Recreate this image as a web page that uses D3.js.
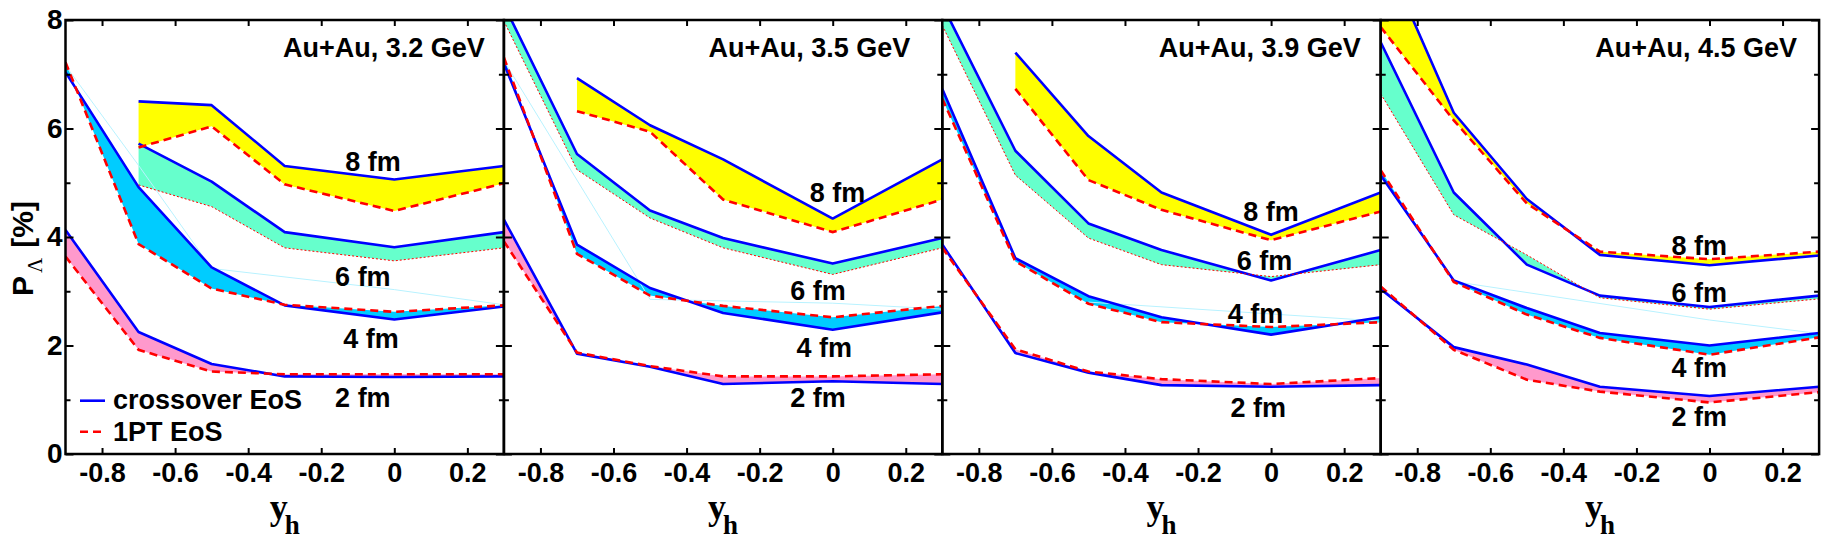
<!DOCTYPE html>
<html>
<head>
<meta charset="utf-8">
<script src="https://cdn.jsdelivr.net/npm/d3@7"></script>
<style>
  body { margin: 0; background: #fff; }
  svg text { font-family: "Liberation Sans", Arial, sans-serif; font-weight: bold; fill: #000; }
  .tick text { font-size: 27px; }
</style>
</head>
<body>
<svg id="chart" width="1831" height="550"></svg>
<script>
// rapidity points where the model was evaluated
const yh = [-0.9, -0.7, -0.5, -0.3, 0, 0.3];
const energies = ["3.2", "3.5", "3.9", "4.5"];
const bLabels = ["2 fm", "4 fm", "6 fm", "8 fm"];
const xTicks = [-0.8, -0.6, -0.4, -0.2, 0, 0.2];
const yMajor = [0, 2, 4, 6, 8];
const yMinor = [1, 3, 5, 7];

// P_Lambda [%], rows = b = 2,4,6,8 fm, null = not computed
const xover32 = [
  [4.13, 2.25, 1.66, 1.43, 1.42, 1.43],
  [7.04, 4.92, 3.44, 2.74, 2.48, 2.72],
  [null, 5.72, 5.02, 4.09, 3.81, 4.09],
  [null, 6.50, 6.43, 5.31, 5.06, 5.31]
];
const onept32 = [
  [3.64, 1.92, 1.52, 1.47, 1.47, 1.47],
  [7.22, 3.87, 3.05, 2.75, 2.62, 2.74],
  [null, 4.96, 4.56, 3.80, 3.56, 3.80],
  [null, 5.65, 6.04, 4.97, 4.48, 4.99]
];
const xover35 = [
  [4.32, 1.85, 1.61, 1.29, 1.34, 1.29],
  [7.20, 3.86, 3.06, 2.60, 2.29, 2.61],
  [8.28, 5.53, 4.49, 3.98, 3.51, 3.98],
  [null, 6.93, 6.06, 5.43, 4.34, 5.43]
];
const onept35 = [
  [3.92, 1.87, 1.62, 1.43, 1.43, 1.47],
  [7.31, 3.69, 2.92, 2.73, 2.52, 2.73],
  [7.98, 5.24, 4.35, 3.80, 3.31, 3.80],
  [null, 6.32, 5.94, 4.69, 4.09, 4.69]
];
const xover39 = [
  [3.86, 1.86, 1.50, 1.27, 1.24, 1.27],
  [6.73, 3.61, 2.91, 2.52, 2.20, 2.52],
  [8.28, 5.59, 4.25, 3.76, 3.20, 3.76],
  [null, 7.40, 5.86, 4.82, 4.04, 4.82]
];
const onept39 = [
  [3.80, 1.93, 1.52, 1.38, 1.29, 1.40],
  [6.55, 3.55, 2.77, 2.43, 2.34, 2.43],
  [7.90, 5.14, 3.98, 3.49, 3.27, 3.49],
  [null, 6.73, 5.05, 4.50, 3.94, 4.47]
];
const xover45 = [
  [3.04, 1.97, 1.65, 1.24, 1.07, 1.24],
  [5.14, 3.20, 2.69, 2.23, 2.00, 2.23],
  [7.59, 4.82, 3.49, 2.92, 2.71, 2.92],
  [9.36, 6.29, 4.70, 3.67, 3.48, 3.66]
];
const onept45 = [
  [3.09, 1.92, 1.37, 1.15, 0.95, 1.14],
  [5.23, 3.17, 2.57, 2.14, 1.83, 2.15],
  [6.64, 4.41, 3.67, 2.88, 2.67, 2.86],
  [7.87, 6.15, 4.62, 3.73, 3.59, 3.73]
];

// faint light-cyan outline left over from the band fills
const faint32 = [[-0.9, 7.16], [-0.7, 5.32], [-0.5, 3.42], [0, 3.03], [0.3, 2.75]];
const faint35 = [[-0.9, 7.25], [-0.5, 2.85], [0, 2.78], [0.3, 2.67]];
const faint39 = [[-0.5, 2.8], [0.3, 2.45]];
const faint45 = [[-0.7, 3.18], [0, 2.47], [0.3, 2.22]];

// where the "b fm" labels sit, in data units [y_h, P]
const lab32 = [[-0.086, 0.86], [-0.064, 1.95], [-0.086, 3.09], [-0.058, 5.22]];
const lab35 = [[-0.04, 0.86], [-0.023, 1.78], [-0.04, 2.83], [0.013, 4.65]];
const lab39 = [[-0.035, 0.69], [-0.043, 2.42], [-0.018, 3.39], [0.0, 4.29]];
const lab45 = [[-0.028, 0.51], [-0.028, 1.42], [-0.028, 2.80], [-0.028, 3.67]];

const xoverAll = [xover32, xover35, xover39, xover45];
const oneptAll = [onept32, onept35, onept39, onept45];
const faintAll = [faint32, faint35, faint39, faint45];
const labAll = [lab32, lab35, lab39, lab45];

const bandColors = ["#ff99cc", "#00ccff", "#66ffcc", "#ffff00"];
const titleInset = [19, 32, 20, 22];

const svg = d3.select("#chart");
const yTop = 20, yBot = 454, left0 = 65.5, pw = 438.4;
const defs = svg.append("defs");
const y = d3.scaleLinear().domain([0, 8]).range([yBot, yTop]);

energies.forEach((e, i) => {
  const x = d3.scaleLinear().domain([-0.9, 0.3]).range([left0 + i * pw, left0 + (i + 1) * pw]);
  const x0 = x.range()[0], x1 = x.range()[1];

  defs.append("clipPath").attr("id", "clip" + i)
    .append("rect").attr("x", x0).attr("y", yTop).attr("width", pw).attr("height", yBot - yTop);

  const g = svg.append("g");
  const plot = g.append("g").attr("clip-path", `url(#clip${i})`);

  const rows = bLabels.map((b, k) =>
    yh.map((v, j) => ({x: v, c: xoverAll[i][k][j], p: oneptAll[i][k][j]}))
      .filter(d => d.c != null));

  const area = d3.area().x(d => x(d.x)).y0(d => y(d.p)).y1(d => y(d.c));
  const lineC = d3.line().x(d => x(d.x)).y(d => y(d.c));
  const lineP = d3.line().x(d => x(d.x)).y(d => y(d.p));

  rows.forEach((r, k) => {
    plot.append("path").attr("d", area(r)).attr("fill", bandColors[k]);
  });

  plot.append("path")
    .attr("d", d3.line().x(d => x(d[0])).y(d => y(d[1]))(faintAll[i]))
    .attr("fill", "none").attr("stroke", "#b8f2ff").attr("stroke-width", 1);

  rows.forEach((r, k) => {
    plot.append("path").attr("d", lineC(r))
      .attr("fill", "none").attr("stroke", "#0000ff").attr("stroke-width", 2.6)
      .attr("stroke-linejoin", "round");
    plot.append("path").attr("d", lineP(r))
      .attr("fill", "none").attr("stroke", "#ff0000")
      .attr("stroke-width", k === 2 ? 1 : 2.6)
      .attr("stroke-dasharray", k === 2 ? "2,2" : "8,5");
  });

  // b labels
  labAll[i].forEach((p, k) => {
    g.append("text").attr("x", x(p[0])).attr("y", y(p[1]))
      .attr("text-anchor", "middle").attr("font-size", 27).text(bLabels[k]);
  });

  // title
  g.append("text").attr("x", x1 - titleInset[i]).attr("y", 57)
    .attr("text-anchor", "end").attr("font-size", 27).text(`Au+Au, ${e} GeV`);

  // axes
  const styleAxis = a => {
    a.select(".domain").remove();
    a.selectAll("line").attr("stroke", "#000").attr("stroke-width", 2);
  };
  g.append("g").attr("transform", `translate(0,${yBot})`)
    .call(d3.axisBottom(x).tickValues(xTicks).tickSizeInner(-6).tickSizeOuter(0)
      .tickPadding(9).tickFormat(d => String(d)))
    .call(styleAxis);
  g.append("g").attr("transform", `translate(0,${yTop})`)
    .call(d3.axisTop(x).tickValues(xTicks).tickSizeInner(-6).tickSizeOuter(0).tickFormat(""))
    .call(styleAxis);

  g.append("g").attr("transform", `translate(${x0},0)`)
    .call(d3.axisLeft(y).tickValues(yMajor).tickSizeInner(-8).tickSizeOuter(0)
      .tickPadding(3).tickFormat(i === 0 ? d => String(d) : ""))
    .call(styleAxis)
    .call(a => a.selectAll("text").style("font-size", "28px"));
  g.append("g").attr("transform", `translate(${x0},0)`)
    .call(d3.axisLeft(y).tickValues(yMinor).tickSizeInner(-5).tickSizeOuter(0).tickFormat(""))
    .call(styleAxis);
  g.append("g").attr("transform", `translate(${x1},0)`)
    .call(d3.axisRight(y).tickValues(yMajor).tickSizeInner(-8).tickSizeOuter(0).tickFormat(""))
    .call(styleAxis);
  g.append("g").attr("transform", `translate(${x1},0)`)
    .call(d3.axisRight(y).tickValues(yMinor).tickSizeInner(-5).tickSizeOuter(0).tickFormat(""))
    .call(styleAxis);

  g.append("rect").attr("x", x0).attr("y", yTop).attr("width", pw).attr("height", yBot - yTop)
    .attr("fill", "none").attr("stroke", "#000").attr("stroke-width", 2.5);

  // x title
  const xt = g.append("text").attr("x", (x0 + x1) / 2).attr("y", 519).attr("text-anchor", "middle");
  xt.append("tspan").style("font-family", "'Liberation Serif', 'Times New Roman', serif")
    .attr("font-size", 36).text("y");
  xt.append("tspan").style("font-family", "'Liberation Serif', 'Times New Roman', serif")
    .attr("font-size", 27).attr("dx", -3).attr("dy", 15).text("h");
});

// y title
const yt = svg.append("text").attr("transform", "translate(33,296) rotate(-90)");
yt.append("tspan").attr("font-size", 30).text("P");
yt.append("tspan").style("font-family", "'Liberation Serif', serif").style("font-weight", "normal")
  .attr("font-size", 21).attr("dx", 3).attr("dy", 9).text("Λ");
yt.append("tspan").attr("font-size", 30).attr("dx", 10).attr("dy", -9).text("[%]");

// legend
const leg = svg.append("g");
leg.append("line").attr("x1", 80).attr("x2", 105).attr("y1", 400.7).attr("y2", 400.7)
  .attr("stroke", "#0000ff").attr("stroke-width", 2.6);
leg.append("text").attr("x", 113).attr("y", 408.5).attr("font-size", 27).text("crossover EoS");
leg.append("line").attr("x1", 80).attr("x2", 105).attr("y1", 431.7).attr("y2", 431.7)
  .attr("stroke", "#ff0000").attr("stroke-width", 2.6).attr("stroke-dasharray", "8,5");
leg.append("text").attr("x", 113).attr("y", 440.5).attr("font-size", 27).text("1PT EoS");
</script>
</body>
</html>
